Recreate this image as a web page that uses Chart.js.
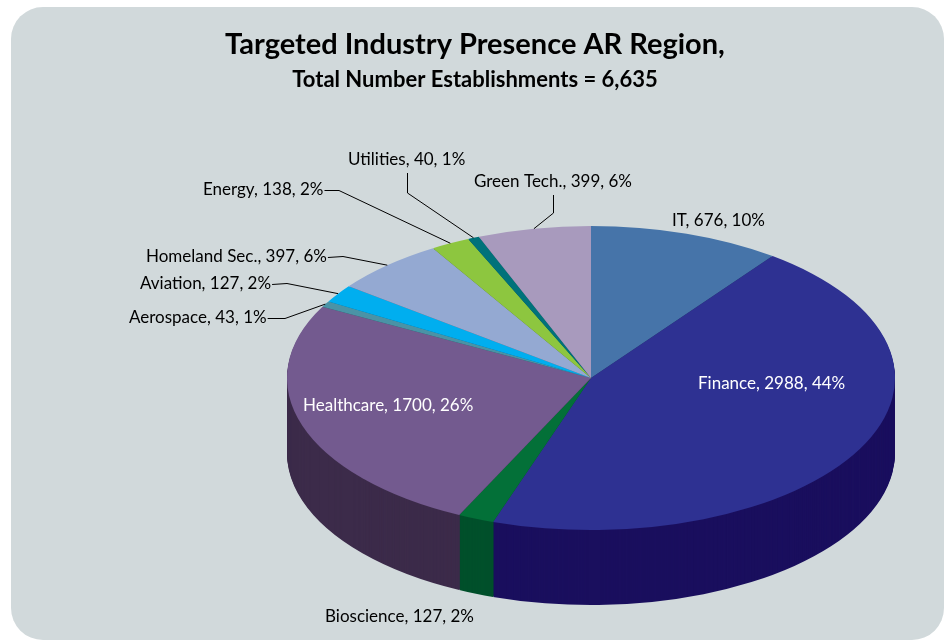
<!DOCTYPE html>
<html>
<head>
<meta charset="utf-8">
<script src="https://cdn.jsdelivr.net/npm/chart.js@4.4.1/dist/chart.umd.min.js"></script>
<style>
  body { margin: 0; background: #fff; }
  #panel { position: absolute; left: 11px; top: 7px; width: 933px; height: 633px; border-radius: 32px; background: #d1d9db; }
  #wrap { position: absolute; left: 0; top: 0; width: 950px; height: 643px; }
</style>
</head>
<body>
<div id="panel"></div>
<div id="wrap"><canvas id="pieChart" width="950" height="643"></canvas></div>
<script>
// slices go clockwise from 12 o'clock
const industries = ['IT', 'Finance', 'Bioscience', 'Healthcare', 'Aerospace', 'Aviation', 'Homeland Sec.', 'Energy', 'Utilities', 'Green Tech.'];
const establishments = [676, 2988, 127, 1700, 43, 127, 397, 138, 40, 399];
const percentShown = [10, 44, 2, 26, 1, 2, 6, 2, 1, 6];

const topColors = ['#4674a9', '#2e3192', '#037038', '#735a8f', '#4a93a6', '#00aeef', '#94a9d2', '#8dc63f', '#00727a', '#a89abd'];
const sideColors = ['#253f5e', '#1a0f5e', '#00502b', '#3c2b4a', '#24525d', '#006a92', '#56657f', '#4f7222', '#00474c', '#5e5470'];

// where the squashed pie sits on the page
const pieCx = 591, pieCy = 378, pieRx = 304, pieRy = 152, pieDepth = 75;

// label text spots (left x, middle y) and leader elbows
const labelSpots = [
    { x: 672, y: 221, color: '#000' },
    { x: 698, y: 384, color: '#fff' },
    { x: 325, y: 617, color: '#000' },
    { x: 303, y: 406, color: '#fff' },
    { x: 129, y: 318, color: '#000', elbow: [285, 318] },
    { x: 140, y: 284, color: '#000', elbow: [287, 283] },
    { x: 146, y: 257, color: '#000', elbow: [343, 256] },
    { x: 203, y: 190, color: '#000', elbow: [339, 190] },
    { x: 348, y: 160, color: '#000', drop: [407, 173, 407, 193] },
    { x: 474, y: 182, color: '#000', drop: [553, 195, 553, 213] }
];

const pie3d = {
    id: 'pie3d',
    beforeDatasetsDraw(chart) {
        const ctx = chart.ctx;
        const meta = chart.getDatasetMeta(0);
        const first = meta.data[0];
        const sx = pieRx / first.outerRadius;
        const sy = pieRy / first.outerRadius;
        const project = (dy) => {
            ctx.translate(pieCx, pieCy + dy);
            ctx.scale(sx, sy);
            ctx.translate(-first.x, -first.y);
        };
        // side of the pie: stack darker copies downwards
        for (let d = pieDepth; d > 0; d--) {
            ctx.save();
            project(d);
            meta.data.forEach((arc, i) => {
                const orig = arc.options;
                arc.options = Object.assign({}, orig, { backgroundColor: sideColors[i], borderWidth: 0 });
                arc.draw(ctx);
                arc.options = orig;
            });
            ctx.restore();
        }
        ctx.save();
        project(0);
    },
    afterDatasetsDraw(chart) {
        const ctx = chart.ctx;
        ctx.restore();
        const meta = chart.getDatasetMeta(0);
        ctx.save();
        ctx.font = '17px Lato';
        ctx.textBaseline = 'middle';
        ctx.textAlign = 'left';
        ctx.strokeStyle = '#000';
        ctx.lineWidth = 1;
        meta.data.forEach((arc, i) => {
            const spot = labelSpots[i];
            const text = industries[i] + ', ' + establishments[i] + ', ' + percentShown[i] + '%';
            ctx.fillStyle = spot.color;
            ctx.fillText(text, spot.x, spot.y);
            const mid = (arc.startAngle + arc.endAngle) / 2;
            const rimX = pieCx + pieRx * Math.cos(mid);
            const rimY = pieCy + pieRy * Math.sin(mid);
            if (spot.elbow) {
                const endX = spot.x + ctx.measureText(text).width + 1;
                ctx.beginPath();
                ctx.moveTo(endX, spot.y + 0.5);
                ctx.lineTo(spot.elbow[0], spot.elbow[1] + 0.5);
                ctx.lineTo(rimX, rimY);
                ctx.stroke();
            }
            if (spot.drop) {
                ctx.beginPath();
                ctx.moveTo(spot.drop[0] + 0.5, spot.drop[1]);
                ctx.lineTo(spot.drop[2] + 0.5, spot.drop[3]);
                ctx.lineTo(rimX, rimY);
                ctx.stroke();
            }
        });
        ctx.restore();
    }
};

const ctx = document.getElementById('pieChart').getContext('2d');
const chart = new Chart(ctx, {
    type: 'pie',
    data: {
        labels: industries,
        datasets: [{
            data: establishments,
            backgroundColor: topColors,
            borderWidth: 0,
            hoverOffset: 0
        }]
    },
    options: {
        responsive: false,
        animation: false,
        layout: { padding: { top: 27, bottom: 20 } },
        plugins: {
            legend: { display: false },
            tooltip: { enabled: false },
            title: {
                display: true,
                text: 'Targeted Industry Presence AR Region,',
                color: '#000',
                font: { family: 'Lato', size: 29, weight: 'bold', lineHeight: 1.2 },
                padding: { top: 0, bottom: 5 }
            },
            subtitle: {
                display: true,
                text: 'Total Number Establishments = 6,635',
                color: '#000',
                font: { family: 'Lato', size: 22, weight: 'bold', lineHeight: 1.2 },
                padding: { top: 0, bottom: 10 }
            }
        }
    },
    plugins: [pie3d]
});
</script>
</body>
</html>
